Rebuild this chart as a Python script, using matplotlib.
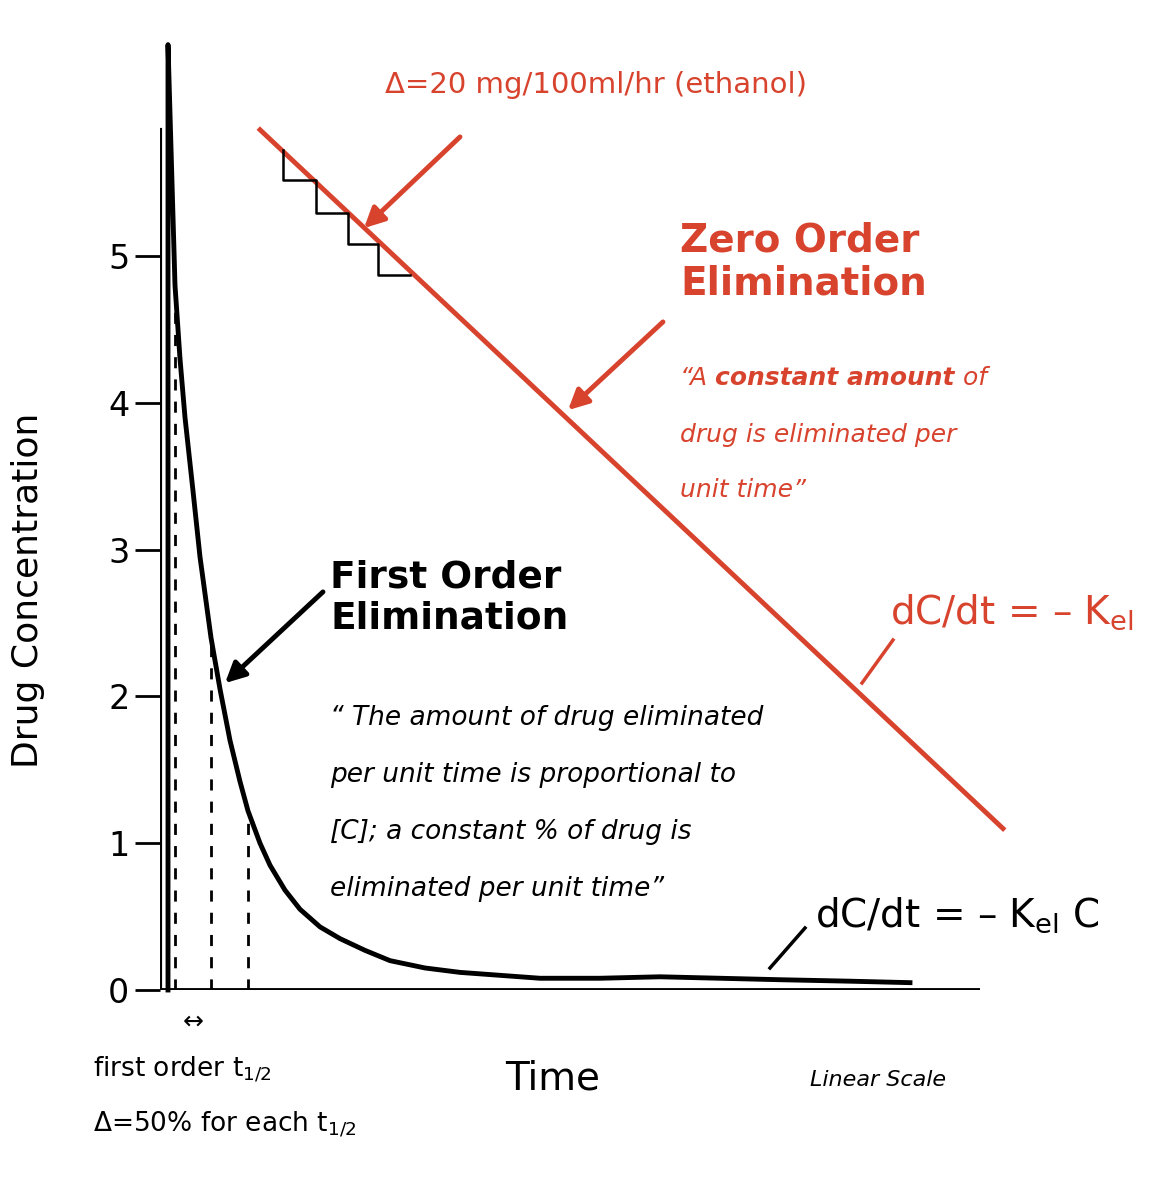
import matplotlib
matplotlib.use("Agg")
import matplotlib.pyplot as plt
from matplotlib.transforms import offset_copy

RED = "#d8432e"
FAM = ["DejaVu Sans"]

# first order curve (time units, concentration)
fo_t = [8, 8, 12, 15, 20, 25, 33, 40, 51, 60, 70, 80, 88, 100, 110, 125, 140, 160,
        180, 205, 230, 265, 300, 340, 380, 440, 500, 560, 620, 690, 750]
fo_c = [0.0, 6.44, 5.5, 4.8, 4.3, 3.9, 3.4, 2.95, 2.4, 2.05, 1.7, 1.42, 1.22, 1.0,
        0.85, 0.68, 0.55, 0.43, 0.35, 0.27, 0.2, 0.15, 0.12, 0.1, 0.08, 0.08, 0.09,
        0.08, 0.07, 0.06, 0.05]
# half-life markers
hl_t = [15, 51, 88]
hl_c = [4.8, 2.4, 1.2]
# zero order line
zo_t = [100, 843]
zo_c = [5.86, 1.10]
# staircase
st_t = [123, 123, 156, 156, 188, 188, 218, 218, 250]
st_c = [5.72, 5.52, 5.52, 5.29, 5.29, 5.08, 5.08, 4.87, 4.87]
yticks = [0, 1, 2, 3, 4, 5]

W, H = 1168, 1200
fig = plt.figure(figsize=(W / 100, H / 100), dpi=100)
x0, y0 = 160, 990
ppu_y = 146.8
ymax = 6.5
xmax = 820
ax = fig.add_axes([x0 / W, (H - y0) / H, xmax / W, ymax * ppu_y / H])
ax.set_xlim(0, xmax)
ax.set_ylim(0, ymax)
for s in ["top", "right", "left", "bottom"]:
    ax.spines[s].set_visible(False)
ax.plot([0, 0], [0, 5.86], color="black", lw=3)
ax.plot([0, xmax], [0, 0], color="black", lw=3.5)
ax.set_xticks([])
ax.set_yticks(yticks)
ax.set_yticklabels([str(v) for v in yticks], fontsize=24)
ax.tick_params(axis="y", length=18, width=2, direction="out", pad=4)

ax.plot(fo_t, fo_c, color="black", lw=3.5, clip_on=False)
for t, c in zip(hl_t, hl_c):
    ax.plot([t, t], [0, c], color="black", lw=2, ls=(0, (4, 4)))
ax.plot(zo_t, zo_c, color=RED, lw=3.5, clip_on=False)
ax.plot(st_t, st_c, color="black", lw=1.8)

# overlay in pixel coordinates
ov = fig.add_axes([0, 0, 1, 1])
ov.set_xlim(0, W)
ov.set_ylim(H, 0)
ov.axis("off")

def arrow(p1, p2, color):
    ov.annotate("", xy=p2, xytext=p1,
                arrowprops=dict(arrowstyle="-|>", color=color, lw=3.5, mutation_scale=30))

ov.text(28, 590, "Drug Concentration", rotation=90, ha="center", va="center", fontsize=26)
ov.text(385, 85, "Δ=20 mg/100ml/hr (ethanol)", color=RED, fontsize=21, va="center")
arrow((462, 135), (362, 230), RED)
ov.text(680, 262, "Zero Order\nElimination", color=RED, fontsize=28,
        weight="bold", va="center", linespacing=1.15)
arrow((665, 320), (566, 412), RED)

# mixed-weight italic line
renderer = fig.canvas.get_renderer()
tr = ov.transData
for part, w in [("“A ", "normal"), ("constant amount", "bold"), (" of", "normal")]:
    t = ov.text(680, 378, part, color=RED, fontsize=18, style="italic", weight=w,
                va="center", transform=tr)
    ex = t.get_window_extent(renderer)
    tr = offset_copy(tr, fig=fig, x=ex.width, y=0, units="dots")
ov.text(680, 435, "drug is eliminated per", color=RED, fontsize=18,
        style="italic", va="center")
ov.text(680, 490, "unit time”", color=RED, fontsize=18, style="italic", va="center")
ov.text(890, 612, r"dC/dt = – K$_{\mathregular{el}}$", color=RED, fontsize=28, va="center")
ov.plot([862, 893], [683, 640], color=RED, lw=2.5)

ov.text(330, 598, "First Order\nElimination", fontsize=27, weight="bold",
        va="center", linespacing=1.2)
arrow((325, 590), (223, 685), "black")
for i, line in enumerate(["“ The amount of drug eliminated", "per unit time is proportional to",
                          "[C]; a constant % of drug is", "eliminated per unit time”"]):
    ov.text(330, 718 + 57 * i, line, fontsize=19, style="italic", va="center")
ov.text(815, 915, r"dC/dt = – K$_{\mathregular{el}}$ C", fontsize=28, va="center")
ov.plot([770, 805], [968, 928], color="black", lw=2.5)

ov.text(193, 1022, "↔", fontsize=18, ha="center", va="center")
ov.text(93, 1070, r"first order t$_{\mathregular{1/2}}$", fontsize=19, va="center")
ov.text(93, 1125, r"Δ=50% for each t$_{\mathregular{1/2}}$", fontsize=19, va="center")
ov.text(553, 1078, "Time", fontsize=28, ha="center", va="center")
ov.text(878, 1080, "Linear Scale", fontsize=16, style="italic", ha="center", va="center")

fig.savefig("out.png", dpi=100)
